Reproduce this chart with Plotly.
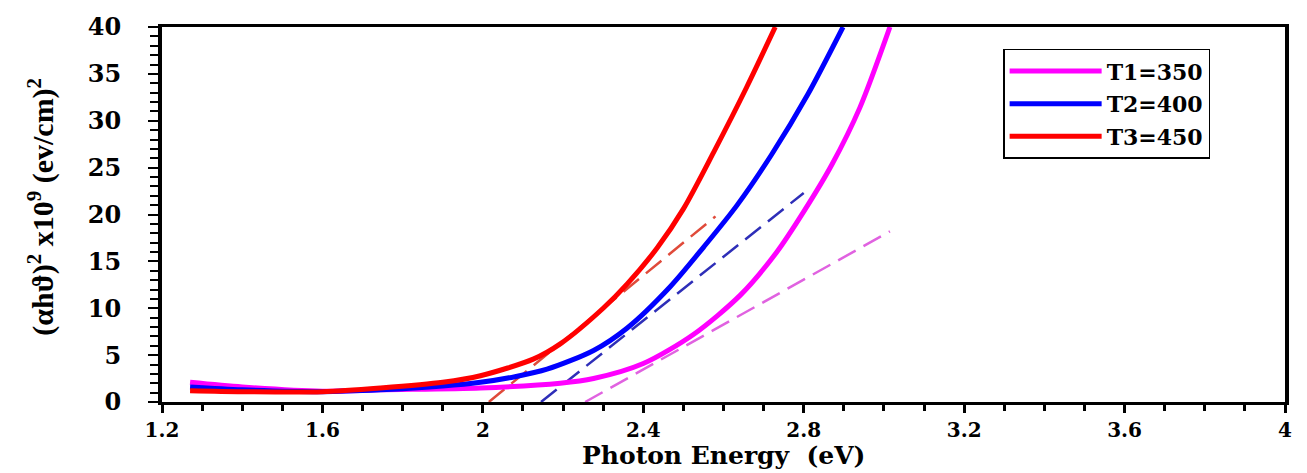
import plotly.graph_objects as go

# Tauc plot: (alpha h nu)^2 versus photon energy for three annealing temperatures
x_t1 = [1.27, 1.40, 1.60, 1.745, 1.994, 2.193, 2.276, 2.40, 2.525, 2.642, 2.733, 2.80, 2.87, 2.94, 3.015]
y_t1 = [2.1, 1.6, 1.15, 1.3, 1.5, 2.0, 2.5, 4.1, 7.2, 11.4, 16.0, 20.3, 25.3, 31.4, 40.0]

x_t2 = [1.27, 1.40, 1.60, 1.745, 1.90, 1.994, 2.08, 2.16, 2.276, 2.36, 2.467, 2.55, 2.634, 2.72, 2.81, 2.898]
y_t2 = [1.6, 1.3, 1.1, 1.3, 1.7, 2.1, 2.7, 3.5, 5.5, 7.9, 12.3, 16.5, 21.0, 26.4, 32.8, 40.0]

x_t3 = [1.27, 1.40, 1.60, 1.745, 1.90, 1.994, 2.127, 2.193, 2.30, 2.36, 2.434, 2.50, 2.575, 2.658, 2.729]
y_t3 = [1.2, 1.1, 1.1, 1.5, 2.1, 2.8, 4.6, 6.2, 10.0, 12.6, 16.4, 20.6, 26.6, 33.6, 40.0]

# Linear extrapolations to the energy axis (band gap estimates)
fit_t1_x = [2.255, 3.015]
fit_t1_y = [0.0, 18.2]
fit_t2_x = [2.145, 2.80]
fit_t2_y = [0.0, 22.3]
fit_t3_x = [2.015, 2.58]
fit_t3_y = [0.0, 19.8]

names = ["T1=350", "T2=400", "T3=450"]
x_ticks = [1.2, 1.6, 2.0, 2.4, 2.8, 3.2, 3.6, 4.0]
x_tick_text = ["1.2", "1.6", "2", "2.4", "2.8", "3.2", "3.6", "4"]
y_ticks = [0, 5, 10, 15, 20, 25, 30, 35, 40]

solid_colors = ["#FF00FF", "#0000FF", "#FF0000"]
dash_colors = ["#E062E0", "#2E2EB8", "#E04A3A"]

fig = go.Figure()

curves = [(x_t1, y_t1), (x_t2, y_t2), (x_t3, y_t3)]
fits = [(fit_t1_x, fit_t1_y), (fit_t2_x, fit_t2_y), (fit_t3_x, fit_t3_y)]

for (fx, fy), col in zip(fits, dash_colors):
    fig.add_trace(go.Scatter(
        x=fx, y=fy, mode="lines", showlegend=False, hoverinfo="skip",
        line=dict(color=col, width=2.5, dash="20px,9px"),
    ))

for (cx, cy), col, nm in zip(curves, solid_colors, names):
    fig.add_trace(go.Scatter(
        x=cx, y=cy, mode="lines", name=nm, legendgroup=nm,
        line=dict(color=col, width=5, shape="spline", smoothing=0.8),
    ))

x_tick_font = dict(family="DejaVu Serif", size=20, color="black", weight="bold")
y_tick_font = dict(family="DejaVu Serif", size=24, color="black", weight="bold")

fig.update_layout(
    width=1307, height=473,
    margin=dict(l=162, r=22, t=21, b=71),
    paper_bgcolor="white", plot_bgcolor="white",
    showlegend=True,
    legend=dict(
        x=0.749, y=0.942, xanchor="left", yanchor="top",
        bgcolor="white", bordercolor="black", borderwidth=1.5,
        font=dict(family="DejaVu Serif", size=22, color="black", weight="bold"),
        itemwidth=92, tracegroupgap=1, traceorder="grouped",
    ),
    xaxis=dict(
        range=[1.2, 4.0], tickmode="array", tickvals=x_ticks, ticktext=x_tick_text,
        ticks="outside", ticklen=8, tickwidth=3, tickcolor="black",
        minor=dict(tick0=1.2, dtick=0.1, ticks="outside", ticklen=6, tickwidth=3, tickcolor="black"),
        showline=True, linecolor="black", linewidth=3, mirror=True,
        showgrid=False, zeroline=False, tickfont=x_tick_font, ticklabelstandoff=0,
    ),
    yaxis=dict(
        range=[0, 40], tickmode="array", tickvals=y_ticks,
        ticks="outside", ticklen=10, tickwidth=2, tickcolor="black",
        minor=dict(tick0=0, dtick=1, ticks="outside", ticklen=8, tickwidth=2, tickcolor="black"),
        showline=True, linecolor="black", linewidth=4, mirror=True,
        showgrid=False, zeroline=False, tickfont=y_tick_font, ticklabelstandoff=22,
    ),
    annotations=[
        dict(text="Photon Energy  (eV)", xref="paper", yref="paper",
             x=0.5, y=-0.187, xanchor="center", yanchor="bottom", showarrow=False,
             font=dict(family="DejaVu Serif", size=25, color="black", weight="bold")),
        dict(text="(\u03b1h\u03d1)<sup>2</sup> x10<sup>9</sup> (ev/cm)<sup>2</sup>",
             xref="paper", yref="paper", x=-0.108, y=0.52, textangle=-90,
             xanchor="center", yanchor="middle", showarrow=False,
             font=dict(family="Liberation Serif", size=30, color="black", weight="bold")),
    ],
)

fig.write_html("out.html")
